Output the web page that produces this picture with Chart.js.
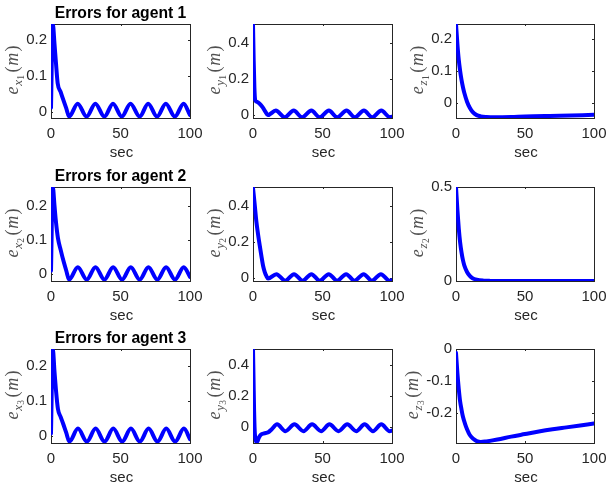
<!DOCTYPE html>
<html>
<head>
<meta charset="utf-8">
<script src="https://cdn.jsdelivr.net/npm/chart.js@4.4.0/dist/chart.umd.min.js"></script>
<style>
  html, body { margin: 0; padding: 0; background: #fff; }
  #fig { position: relative; width: 606px; height: 487px; overflow: hidden; background: #fff; }
  #fig canvas { position: absolute; }
</style>
</head>
<body>
<div id="fig"></div>
<script>
// time (sec) and error (m) samples
const tX1 = [0, 1.3, 2.5, 3.5, 4.8, 7, 9, 11, 13, 19.2, 25.6, 31.9, 38.4, 44.6, 50.9, 57.2, 63.8, 69.9, 76.3, 82.6, 89.1, 95.4, 100];
const eX1 = [0.012, 0.245, 0.19, 0.14, 0.08, 0.055, 0.032, 0.01, -0.013, 0.023, -0.013, 0.023, -0.013, 0.023, -0.013, 0.023, -0.013, 0.023, -0.013, 0.023, -0.013, 0.023, -0.009];

const tY1 = [0, 0.5, 1, 1.6, 3, 4.6, 7, 9, 10.6, 16.4, 22.8, 29.3, 35.3, 42, 48, 54.6, 60.6, 67.3, 73.3, 79.8, 85.8, 92.3, 98.6, 100];
const eY1 = [0.5, 0.3, 0.15, 0.08, 0.07, 0.062, 0.04, 0.015, -0.003, 0.022, -0.015, 0.022, -0.015, 0.022, -0.015, 0.022, -0.015, 0.022, -0.015, 0.022, -0.015, 0.022, -0.015, -0.012];

const tZ1 = [0, 1, 2, 3, 4, 5, 6, 8, 10, 12, 15, 18, 22, 28, 40, 50, 75, 100];
const eZ1 = [0.247, 0.185, 0.135, 0.1, 0.072, 0.05, 0.032, 0.004, -0.015, -0.028, -0.038, -0.042, -0.044, -0.045, -0.044, -0.042, -0.04, -0.037];

const tX2 = [0, 1.3, 2.5, 3.5, 5, 7, 9, 11, 13, 19.3, 25.7, 32, 38.4, 44.7, 51.1, 57.4, 63.8, 70.1, 76.5, 82.8, 89.2, 95.5, 100];
const eX2 = [0.01, 0.254, 0.2, 0.155, 0.105, 0.07, 0.038, 0.01, -0.016, 0.02, -0.016, 0.02, -0.016, 0.02, -0.016, 0.02, -0.016, 0.02, -0.016, 0.02, -0.016, 0.02, -0.008];

const tY2 = [0, 1.2, 2.4, 3.6, 4.8, 6, 7.2, 8.4, 9.6, 10.8, 16.8, 23.2, 29.5, 35.7, 42, 48, 54.5, 60.5, 67, 73, 79.6, 85.5, 92, 98.2, 100];
const eY2 = [0.5, 0.41, 0.315, 0.245, 0.183, 0.125, 0.07, 0.035, 0.012, -0.002, 0.022, -0.014, 0.022, -0.014, 0.022, -0.014, 0.022, -0.014, 0.022, -0.014, 0.022, -0.014, 0.022, -0.014, -0.011];

const tZ2 = [0, 1, 2, 3, 4, 5, 6, 8, 10, 12, 15, 20, 25, 30, 100];
const eZ2 = [0.5, 0.38, 0.28, 0.205, 0.152, 0.112, 0.083, 0.048, 0.027, 0.015, 0.007, 0.002, 0.0005, 0, 0];

const tX3 = [0, 1.3, 2.5, 3.5, 5, 7, 9, 11, 13.2, 19.4, 25.8, 32.1, 38.5, 44.8, 51.2, 57.5, 63.9, 70.2, 76.6, 82.9, 89.3, 95.6, 100];
const eX3 = [0.008, 0.249, 0.185, 0.135, 0.078, 0.055, 0.033, 0.01, -0.015, 0.022, -0.015, 0.022, -0.015, 0.022, -0.015, 0.022, -0.015, 0.022, -0.015, 0.022, -0.015, 0.022, -0.008];

const tY3 = [0, 0.4, 0.8, 1.4, 2.9, 4.2, 5.8, 8, 11, 13.5, 17.3, 23.3, 29.8, 36.3, 42.5, 49, 55, 61.5, 67.8, 74.3, 80.3, 86.3, 92.3, 98.3, 100];
const eY3 = [0.5, 0.3, 0.1, -0.05, -0.097, -0.07, -0.05, -0.042, -0.035, -0.015, 0.016, -0.028, 0.016, -0.028, 0.016, -0.028, 0.016, -0.028, 0.016, -0.028, 0.016, -0.028, 0.016, -0.028, -0.024];

const tZ3 = [0, 1, 2, 3, 4, 5, 6.5, 8, 10, 12.5, 15, 18, 22, 30, 40, 50, 60, 70, 80, 90, 100];
const eZ3 = [-0.012, -0.075, -0.125, -0.165, -0.19, -0.212, -0.234, -0.252, -0.27, -0.282, -0.289, -0.292, -0.29, -0.284, -0.275, -0.267, -0.259, -0.252, -0.246, -0.24, -0.234];

// tick labels
const xTicks = [0, 50, 100];
const yTicksX = [0, 0.1, 0.2];
const yTicksY = [0, 0.2, 0.4];
const yTicksZ1 = [0, 0.1, 0.2];
const yTicksZ2 = [0, 0.5];
const yTicksZ3 = [-0.2, -0.1, 0];

const panels = [
  { t: tX1, e: eX1, lim: [-0.017, 0.245], ticks: yTicksX, sym: 'x', n: '1', title: 'Errors for agent 1' },
  { t: tY1, e: eY1, lim: [-0.019, 0.503], ticks: yTicksY, sym: 'y', n: '1' },
  { t: tZ1, e: eZ1, lim: [-0.047, 0.247], ticks: yTicksZ1, sym: 'z', n: '1' },
  { t: tX2, e: eX2, lim: [-0.02, 0.254], ticks: yTicksX, sym: 'x', n: '2', title: 'Errors for agent 2' },
  { t: tY2, e: eY2, lim: [-0.016, 0.505], ticks: yTicksY, sym: 'y', n: '2' },
  { t: tZ2, e: eZ2, lim: [0, 0.5], ticks: yTicksZ2, sym: 'z', n: '2' },
  { t: tX3, e: eX3, lim: [-0.019, 0.249], ticks: yTicksX, sym: 'x', n: '3', title: 'Errors for agent 3' },
  { t: tY3, e: eY3, lim: [-0.104, 0.5], ticks: yTicksY, sym: 'y', n: '3' },
  { t: tZ3, e: eZ3, lim: [-0.295, 0], ticks: yTicksZ3, sym: 'z', n: '3' }
];

// axes boxes in page pixels
const colL = [51, 253, 456], colR = [190, 392, 594];
const rowT = [24, 187, 349], rowB = [118, 281, 443];
const PADL = 60, PADT = 30, PADR = 20, PADB = 50;

const axisColor = '#262626';
const tickFont = { family: 'Liberation Sans', size: 15 };
const tickFontCss = '15px "Liberation Sans"';

const matlabAxes = {
  id: 'matlabAxes',
  beforeDatasetsDraw(chart) {
    const ctx = chart.ctx, a = chart.chartArea;
    const xs = chart.scales.x, ys = chart.scales.y;
    ctx.save();
    ctx.strokeStyle = axisColor;
    ctx.lineWidth = 1;
    ctx.strokeRect(a.left + 0.5, a.top + 0.5, a.right - a.left, a.bottom - a.top);
    const tl = 2;
    ctx.beginPath();
    xs.ticks.forEach(tk => {
      const px = Math.round(xs.getPixelForValue(tk.value)) + 0.5;
      ctx.moveTo(px, a.bottom); ctx.lineTo(px, a.bottom - tl);
      ctx.moveTo(px, a.top); ctx.lineTo(px, a.top + tl);
    });
    ys.ticks.forEach(tk => {
      const py = Math.round(ys.getPixelForValue(tk.value)) + 0.5;
      ctx.moveTo(a.left, py); ctx.lineTo(a.left + tl, py);
      ctx.moveTo(a.right, py); ctx.lineTo(a.right - tl, py);
    });
    ctx.stroke();
    ctx.restore();
  },
  afterDraw(chart, args, opts) {
    const ctx = chart.ctx, a = chart.chartArea;
    const midX = (a.left + a.right) / 2;
    ctx.save();
    // x label
    ctx.fillStyle = axisColor;
    ctx.font = tickFontCss;
    ctx.textAlign = 'center';
    ctx.textBaseline = 'middle';
    ctx.fillText('sec', midX + 1, a.bottom + 34.4);
    // title
    if (opts.title) {
      ctx.fillStyle = '#000';
      ctx.font = 'bold 15.7px "Liberation Sans"';
      ctx.fillText(opts.title, midX, a.top - 10.5);
    }
    // y label  e_{s_n}(m)
    ctx.font = tickFontCss;
    let maxW = 0;
    chart.scales.y.ticks.forEach(tk => { maxW = Math.max(maxW, ctx.measureText(String(tk.value)).width); });
    const base = a.left - 4 - maxW - 8;
    const parts = [
      { s: 'e', f: 'italic 18px "Liberation Serif"', dy: 0, gap: 0 },
      { s: opts.sym, f: 'italic 13px "Liberation Serif"', dy: 3.5, gap: 0.8 },
      { s: opts.n, f: '9.5px "Liberation Serif"', dy: 5.5, gap: 0.3 },
      { s: '(', f: '18px "Liberation Serif"', dy: 0, gap: 2.5 },
      { s: 'm', f: 'italic 18px "Liberation Serif"', dy: 0, gap: 0.8 },
      { s: ')', f: '18px "Liberation Serif"', dy: 0, gap: 1.2 }
    ];
    let total = 0;
    parts.forEach(p => { ctx.font = p.f; p.w = ctx.measureText(p.s).width; total += p.gap + p.w; });
    ctx.translate(base, (a.top + a.bottom) / 2 - 1);
    ctx.rotate(-Math.PI / 2);
    ctx.fillStyle = '#505050';
    ctx.textAlign = 'left';
    ctx.textBaseline = 'alphabetic';
    let u = -total / 2;
    parts.forEach(p => {
      u += p.gap;
      ctx.font = p.f;
      ctx.fillText(p.s, u, p.dy);
      u += p.w;
    });
    ctx.restore();
  }
};

const fig = document.getElementById('fig');

panels.forEach((p, i) => {
  const r = Math.floor(i / 3), c = i % 3;
  const w = colR[c] - colL[c], h = rowB[r] - rowT[r];
  const cv = document.createElement('canvas');
  cv.width = w + PADL + PADR;
  cv.height = h + PADT + PADB;
  cv.style.left = (colL[c] - PADL) + 'px';
  cv.style.top = (rowT[r] - PADT) + 'px';
  fig.appendChild(cv);

  new Chart(cv, {
    type: 'line',
    data: {
      datasets: [{
        data: p.t.map((t, k) => ({ x: t, y: p.e[k] })),
        borderColor: '#0000ff',
        borderWidth: 4,
        borderJoinStyle: 'round',
        borderCapStyle: 'round',
        pointRadius: 0,
        cubicInterpolationMode: 'monotone',
        fill: false
      }]
    },
    options: {
      responsive: false,
      animation: false,
      devicePixelRatio: 1,
      layout: { padding: { top: PADT, right: PADR, left: 0, bottom: 0 } },
      plugins: {
        legend: { display: false },
        tooltip: { enabled: false },
        matlabAxes: { title: p.title, sym: p.sym, n: p.n }
      },
      scales: {
        x: {
          type: 'linear',
          min: 0,
          max: 100,
          grid: { display: false, drawTicks: false },
          border: { display: false },
          afterBuildTicks: s => { s.ticks = xTicks.map(v => ({ value: v })); },
          afterFit: s => { s.height = PADB; },
          ticks: { color: axisColor, font: tickFont, padding: 6.5, maxRotation: 0, autoSkip: false, callback: v => String(v) }
        },
        y: {
          type: 'linear',
          min: p.lim[0],
          max: p.lim[1],
          grid: { display: false, drawTicks: false },
          border: { display: false },
          afterBuildTicks: s => { s.ticks = p.ticks.map(v => ({ value: v })); },
          afterFit: s => { s.width = PADL; },
          ticks: { color: axisColor, font: tickFont, padding: 4, autoSkip: false, callback: v => String(v) }
        }
      }
    },
    plugins: [matlabAxes]
  });
});
</script>
</body>
</html>
